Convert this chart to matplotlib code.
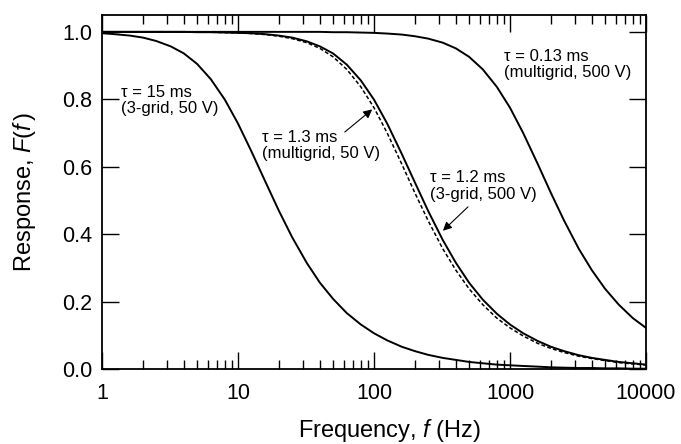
import matplotlib
matplotlib.use("Agg")
import matplotlib.pyplot as plt

plt.rcParams.update({
    'font.family': ['Liberation Sans', 'DejaVu Sans'],
    'mathtext.fontset': 'custom',
    'mathtext.rm': 'Liberation Sans',
    'mathtext.it': 'Liberation Sans:italic',
})

freq = [1, 1.25, 1.6, 2, 2.5, 3.2, 4, 5, 6.3, 8,
        10, 12.5, 16, 20, 25, 32, 40, 50, 63, 80,
        100, 125, 160, 200, 250, 320, 400, 500, 630, 800,
        1000, 1250, 1600, 2000, 2500, 3200, 4000, 5000, 6300, 8000,
        10000]

# tau = 15 ms (3-grid, 50 V)
resp_15ms = [0.996, 0.993, 0.989, 0.983, 0.973, 0.957, 0.936, 0.905, 0.860, 0.799,
             0.728, 0.647, 0.553, 0.469, 0.391, 0.315, 0.256, 0.208, 0.166, 0.132,
             0.106, 0.085, 0.066, 0.053, 0.042, 0.033, 0.027, 0.021, 0.017, 0.013,
             0.011, 0.009, 0.007, 0.005, 0.004, 0.003, 0.003, 0.002, 0.002, 0.001,
             0.001]

# tau = 1.3 ms (multigrid, 50 V) - dashed
resp_1p3ms = [1.000, 1.000, 1.000, 1.000, 1.000, 1.000, 1.000, 0.999, 0.999, 0.998,
              0.997, 0.995, 0.992, 0.987, 0.980, 0.968, 0.951, 0.926, 0.889, 0.837,
              0.775, 0.700, 0.608, 0.522, 0.440, 0.357, 0.293, 0.238, 0.191, 0.151,
              0.122, 0.098, 0.076, 0.061, 0.049, 0.038, 0.031, 0.025, 0.019, 0.015,
              0.012]

# tau = 1.2 ms (3-grid, 500 V)
resp_1p2ms = [1.000, 1.000, 1.000, 1.000, 1.000, 1.000, 1.000, 0.999, 0.999, 0.998,
              0.997, 0.996, 0.993, 0.989, 0.983, 0.972, 0.957, 0.936, 0.903, 0.856,
              0.799, 0.728, 0.638, 0.553, 0.469, 0.383, 0.315, 0.256, 0.206, 0.164,
              0.132, 0.106, 0.083, 0.066, 0.053, 0.041, 0.033, 0.027, 0.021, 0.017,
              0.013]

# tau = 0.13 ms (multigrid, 500 V)
resp_0p13ms = [1.000, 1.000, 1.000, 1.000, 1.000, 1.000, 1.000, 1.000, 1.000, 1.000,
               1.000, 1.000, 1.000, 1.000, 1.000, 1.000, 1.000, 0.999, 0.999, 0.998,
               0.997, 0.995, 0.992, 0.987, 0.980, 0.968, 0.951, 0.926, 0.889, 0.837,
               0.775, 0.700, 0.608, 0.522, 0.440, 0.357, 0.293, 0.238, 0.191, 0.151,
               0.122]

fig = plt.figure(figsize=(6.81, 4.44), dpi=100)
ax = fig.add_axes([0.1498, 0.1689, 0.7988, 0.7973])

ax.plot(freq, resp_15ms, color='black', lw=1.4)
ax.plot(freq, resp_1p3ms, color='black', lw=1.1, dashes=(2.5, 1.5))
ax.plot(freq, resp_1p2ms, color='black', lw=1.4)
ax.plot(freq, resp_0p13ms, color='black', lw=1.4)

ax.set_xscale('log')
ax.set_xlim(1, 10000)
ax.set_ylim(0, 1.05)
ax.set_yticks([0.0, 0.2, 0.4, 0.6, 0.8, 1.0])
ax.set_yticklabels(['0.0', '0.2', '0.4', '0.6', '0.8', '1.0'])
ax.set_xticks([1, 10, 100, 1000, 10000])
ax.set_xticklabels(['1', '10', '100', '1000', '10000'])
ax.minorticks_on()
ax.yaxis.set_tick_params(which='minor', left=False, right=False)

ax.tick_params(which='major', direction='in', length=12, width=1.0,
               top=True, right=True, labelsize=15.5)
ax.tick_params(axis='x', which='major', pad=10)
ax.tick_params(axis='y', which='major', pad=7)
ax.tick_params(which='minor', direction='in', length=6.5, width=1.0,
               top=True, bottom=True)
for s in ax.spines.values():
    s.set_linewidth(1.3)

ax.set_xlabel('Frequency, $f$ (Hz)', fontsize=17, va='baseline')
ax.xaxis.set_label_coords(0.528, -0.192)
ax.set_ylabel('Response, $F(f\\,)$', fontsize=17)
ax.yaxis.set_label_coords(-0.118, 0.5)

fs = 12
ax.text(1.38, 0.797, 'τ = 15 ms\n(3-grid, 50 V)', fontsize=fs,
        va='center', ha='left', linespacing=1.1)
ax.text(903, 0.904, 'τ = 0.13 ms\n(multigrid, 500 V)', fontsize=fs,
        va='center', ha='left', linespacing=1.1)
ax.text(15.0, 0.662, 'τ = 1.3 ms\n(multigrid, 50 V)', fontsize=fs,
        va='center', ha='left', linespacing=1.1)
ax.text(258, 0.543, 'τ = 1.2 ms\n(3-grid, 500 V)', fontsize=fs,
        va='center', ha='left', linespacing=1.1)

ax.annotate('', xy=(97, 0.77), xytext=(61, 0.703),
            arrowprops=dict(arrowstyle='-|>', color='black', lw=0.8,
                            mutation_scale=13, shrinkA=0, shrinkB=0))
ax.annotate('', xy=(321, 0.41), xytext=(491, 0.481),
            arrowprops=dict(arrowstyle='-|>', color='black', lw=0.8,
                            mutation_scale=13, shrinkA=0, shrinkB=0))

fig.savefig('out.png', dpi=100)
